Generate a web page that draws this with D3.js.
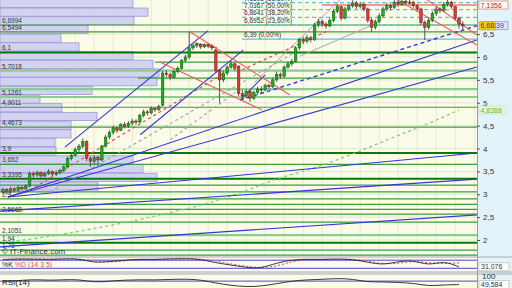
<!DOCTYPE html>
<html>
<head>
<meta charset="utf-8">
<script src="https://cdn.jsdelivr.net/npm/d3@7"></script>
<style>
  body { margin: 0; background: #fff; }
  svg { display: block; font-family: "Liberation Sans", Arial, sans-serif; }
</style>
</head>
<body>
<div id="chart"></div>
<script>
// candles: [open, high, low, close], one per session
const candles = [
  [3.05,3.15,3.00,3.10],[3.10,3.14,3.00,3.05],[3.05,3.16,3.02,3.12],[3.12,3.15,3.04,3.08],
  [3.08,3.20,3.06,3.15],[3.15,3.18,3.08,3.12],[3.12,3.22,3.10,3.18],[3.18,3.50,3.15,3.45],
  [3.45,3.50,3.36,3.42],[3.42,3.52,3.38,3.48],[3.48,3.50,3.36,3.40],[3.40,3.50,3.37,3.45],
  [3.45,3.55,3.42,3.50],[3.50,3.52,3.40,3.44],[3.44,3.52,3.40,3.47],[3.47,3.56,3.44,3.52],
  [3.52,3.64,3.48,3.60],[3.60,3.82,3.58,3.78],[3.78,3.90,3.74,3.85],[3.85,4.02,3.82,3.98],
  [3.98,4.10,3.92,4.05],[4.05,4.22,4.00,4.15],[4.15,4.18,3.72,3.78],[3.78,3.84,3.60,3.72],
  [3.72,3.86,3.66,3.80],[3.80,3.85,3.62,3.75],[3.75,4.08,3.72,4.05],[4.05,4.30,4.02,4.25],
  [4.25,4.40,4.20,4.35],[4.35,4.50,4.30,4.45],[4.45,4.48,4.34,4.40],[4.40,4.56,4.38,4.52],
  [4.52,4.58,4.44,4.48],[4.48,4.60,4.45,4.55],[4.55,4.65,4.50,4.60],[4.60,4.64,4.52,4.58],
  [4.58,4.76,4.55,4.72],[4.72,4.85,4.68,4.80],[4.80,4.84,4.72,4.78],[4.78,4.92,4.74,4.88],
  [4.88,4.90,4.80,4.85],[4.85,4.96,4.82,4.92],[4.95,5.70,4.92,5.65],[5.65,5.72,5.55,5.62],
  [5.62,5.66,5.50,5.55],[5.55,5.72,5.52,5.68],[5.68,5.80,5.64,5.75],[5.75,5.96,5.72,5.92],
  [5.92,6.05,5.88,6.00],[6.00,6.55,5.95,6.20],[6.20,6.30,6.15,6.25],[6.25,6.32,6.20,6.28],
  [6.28,6.30,6.18,6.22],[6.22,6.30,6.20,6.27],[6.27,6.30,6.20,6.24],[6.24,6.28,6.15,6.20],
  [6.15,6.18,5.65,5.70],[5.70,5.72,5.00,5.50],[5.50,5.70,5.45,5.65],[5.65,5.82,5.60,5.78],
  [5.78,5.92,5.74,5.85],[5.85,5.88,5.70,5.75],[5.80,5.82,5.15,5.20],[5.20,5.28,5.05,5.15],
  [5.15,5.30,5.10,5.25],[5.25,5.28,5.02,5.10],[5.10,5.26,5.06,5.22],[5.22,5.35,5.18,5.30],
  [5.30,5.36,5.22,5.28],[5.28,5.42,5.25,5.38],[5.38,5.42,5.30,5.35],[5.35,5.55,5.32,5.50],
  [5.50,5.68,5.46,5.62],[5.62,5.66,5.52,5.58],[5.58,5.82,5.55,5.78],[5.78,5.90,5.74,5.85],
  [5.85,5.96,5.80,5.90],[5.90,6.24,5.88,6.20],[6.20,6.42,6.15,6.38],[6.38,6.44,6.28,6.35],
  [6.35,6.48,6.30,6.42],[6.42,6.46,6.32,6.38],[6.38,6.75,6.35,6.70],[6.70,6.84,6.65,6.78],
  [6.78,6.82,6.66,6.72],[6.72,6.76,6.62,6.68],[6.68,6.85,6.65,6.80],[6.80,7.05,6.76,7.00],
  [7.00,7.16,6.96,7.10],[7.10,7.12,6.80,6.85],[6.85,7.10,6.82,7.05],[7.05,7.16,7.00,7.12],
  [7.12,7.24,7.08,7.18],[7.18,7.22,7.05,7.10],[7.10,7.20,7.06,7.15],[7.15,7.18,7.00,7.05],
  [7.05,7.08,6.75,6.80],[6.80,6.86,6.55,6.65],[6.65,6.82,6.60,6.78],[6.78,6.95,6.74,6.90],
  [6.90,7.10,6.86,7.05],[7.05,7.18,7.00,7.12],[7.12,7.16,7.02,7.08],[7.08,7.24,7.05,7.20],
  [7.20,7.24,7.10,7.15],[7.15,7.26,7.12,7.22],[7.22,7.25,7.14,7.18],[7.18,7.25,7.14,7.20],
  [7.20,7.22,7.08,7.12],[7.12,7.16,7.00,7.05],[7.05,7.08,6.70,6.75],[6.75,6.80,6.37,6.65],
  [6.65,6.85,6.60,6.80],[6.80,7.00,6.76,6.95],[6.95,7.10,6.90,7.05],[7.05,7.08,6.96,7.02],
  [7.02,7.20,6.98,7.15],[7.15,7.25,7.10,7.20],[7.20,7.22,7.05,7.10],[7.10,7.12,6.80,6.85],
  [6.85,6.88,6.62,6.72],[6.72,6.78,6.58,6.68]
];

// volume by price: bins from the top (7.26) down, step 0.19
const vbpTop = 7.26;
const vbpStep = 0.19;
const vbpVolume = [133,148,134,88,61,79,133,153,159,157,92,40,62,97,71,71,55,56,133,143,157,98];

// horizontal support / resistance levels
const levels = [6.6994, 6.5494, 4.9011, 4.4673, 3.652, 3.20, 3.05, 2.90, 2.78, 2.67, 2.5668, 2.39, 1.78, 1.67];
const strongLevels = [6.1, 3.9, 3.3395, 1.94];
const softLevels = [5.7018, 5.30, 5.1261, 2.1051];
const partialLevels = [[40, 5.89], [35.5, 5.54]];
const levelLabels = [
  [6.6994,"6,6994"],[6.5494,"6,5494"],[6.1,"6,1"],[5.7018,"5,7018"],[5.1261,"5,1261"],
  [4.9011,"4,9011"],[4.4673,"4,4673"],[3.9,"3,9"],[3.652,"3,652"],[3.3395,"3,3395"],
  [2.90,"2,9"],[2.5668,"2,5668"],[2.1051,"2,1051"],[1.94,"1,94"],[1.78,"1,78"]
];

// fibonacci retracement
const fibStart = 62.9;
const fibLevels = [7.1893, 7.0367, 6.8641, 6.6952, 6.39];
const fibLabels = ["7,1893 (61,80%)","7,0367 (50,00%)","6,8641 (38,20%)","6,6952 (23,60%)","6,39 (0,00%)"];

// trend lines [i1, p1, i2, p2]
const blueLines = [
  [-0.8,1.85,124.7,2.55],[-0.8,2.63,124.7,3.33],[1.3,2.94,124.7,3.90],
  [1.3,2.94,124.7,5.78],[1.3,2.94,124.7,6.37],[16.3,4.03,53.9,6.57],
  [36.1,4.30,63.2,6.15],[62.4,5.06,69.0,5.61]
];
const blueDashed = [[62.4,5.06,124.7,6.6839]];
const redLines = [
  [49.2,6.55,75.5,5.17],[41.3,5.89,68.2,4.84],[50.0,6.31,56.3,6.20],
  [103.7,7.25,124.7,6.26],[111.6,7.25,124.7,6.48]
];
const redLevel = [84.0, 7.1356];
const redDashed = [[7.1,3.09,59.7,5.72],[62.9,5.72,86.0,6.59]];
const greyLines = [[66.3,5.45,88.7,7.25],[78.2,6.02,99.2,6.77]];
const greyDashed = [[12.4,3.05,77.9,6.15],[44.0,4.19,62.0,5.28]];

// long moving average (dashed green)
const maLong = [[2,1.96],[12,2.08],[22,2.22],[32,2.38],[42,2.56],[52,2.76],[62,3.02],
  [72,3.33],[82,3.58],[92,3.88],[102,4.22],[112,4.55],[120,4.84]];

// oscillators, sampled every 4 sessions
const oscStep = 4;
const stochK = [85,90,88,85,90,92,60,70,80,88,85,90,92,88,60,45,25,20,60,82,88,85,90,86,65,45,70,80,40,75,31];
const stochD = [80,88,89,86,87,90,75,65,75,85,86,88,90,90,75,52,35,22,35,70,85,86,87,88,75,52,55,75,60,55,60];
const rsi = [70,72,80,74,78,80,62,70,76,78,76,80,82,78,58,45,36,40,55,70,78,80,86,82,64,66,62,58,40,48,49.584];

const priceTicks = [2, 2.5, 3, 3.5, 4, 4.5, 5, 5.5, 6, 6.5];

const W = 512, H = 288;
const plotW = 477, mainH = 256;

const svg = d3.select("#chart").append("svg").attr("width", W).attr("height", H);

var x = d3.scaleLinear().domain([-0.79, 124.74]).range([0, plotW]);
var y = d3.scaleLinear().domain([2, 6]).range([240, 57]);

svg.append("rect").attr("width", W).attr("height", H).attr("fill", "#f4f4f4");
svg.append("rect").attr("x", plotW).attr("width", W - plotW).attr("height", H).attr("fill", "#e3f3fa");
svg.append("rect").attr("width", plotW).attr("height", mainH).attr("fill", "#fbfbe9");

svg.append("clipPath").attr("id", "mainclip").append("rect").attr("width", plotW).attr("height", mainH);
var main = svg.append("g").attr("clip-path", "url(#mainclip)");

// grid
main.selectAll(".vg").data(d3.range(4, 125, 5)).enter().append("line")
  .attr("x1", d => x(d)).attr("x2", d => x(d)).attr("y1", 0).attr("y2", mainH)
  .attr("stroke", "#e9e9d2").attr("stroke-width", 1);
main.selectAll(".hg").data(priceTicks).enter().append("line")
  .attr("x1", 0).attr("x2", plotW).attr("y1", d => y(d)).attr("y2", d => y(d))
  .attr("stroke", "#e4e4d0");

// volume by price
var vw = d3.scaleLinear().domain([0, 160]).range([0, 160]);
main.selectAll(".vbp").data(vbpVolume).enter().append("rect")
  .attr("x", 0)
  .attr("y", (d, k) => y(vbpTop - k * vbpStep))
  .attr("width", d => vw(d))
  .attr("height", (d, k) => y(vbpTop - (k + 1) * vbpStep) - y(vbpTop - k * vbpStep) - 0.5)
  .attr("fill", "#cdcdf2").attr("fill-opacity", 0.9)
  .attr("stroke", "#9a9ad6").attr("stroke-width", 0.8);

// horizontal levels
main.selectAll(".lvs").data(softLevels).enter().append("line")
  .attr("x1", 0).attr("x2", plotW).attr("y1", d => y(d)).attr("y2", d => y(d))
  .attr("stroke", "#8ccc8c").attr("stroke-width", 2.2);
main.selectAll(".lv").data(levels).enter().append("line")
  .attr("x1", 0).attr("x2", plotW).attr("y1", d => y(d)).attr("y2", d => y(d))
  .attr("stroke", "#3c9e3c").attr("stroke-width", 1.2);
main.selectAll(".lvp").data(partialLevels).enter().append("line")
  .attr("x1", d => x(d[0])).attr("x2", plotW).attr("y1", d => y(d[1])).attr("y2", d => y(d[1]))
  .attr("stroke", "#3c9e3c").attr("stroke-width", 1.2);
main.selectAll(".lvb").data(strongLevels).enter().append("line")
  .attr("x1", 0).attr("x2", plotW).attr("y1", d => y(d)).attr("y2", d => y(d))
  .attr("stroke", "#087a08").attr("stroke-width", 2);

// fibonacci
main.selectAll(".fib").data(fibLevels).enter().append("line")
  .attr("x1", x(fibStart)).attr("x2", plotW).attr("y1", d => y(d)).attr("y2", d => y(d))
  .attr("stroke", "#55c2f0").attr("stroke-width", 1.2)
  .attr("stroke-dasharray", (d, k) => k === fibLevels.length - 1 ? null : "4,3");

// long moving average
main.append("path").datum(maLong)
  .attr("d", d3.line().x(d => x(d[0])).y(d => y(d[1])).curve(d3.curveMonotoneX))
  .attr("fill", "none").attr("stroke", "#6fd86f").attr("stroke-width", 1.3).attr("stroke-dasharray", "3,3");

function drawSegs(data, color, dash, width) {
  main.append("g").selectAll("line").data(data).enter().append("line")
    .attr("x1", d => x(d[0])).attr("y1", d => y(d[1]))
    .attr("x2", d => x(d[2])).attr("y2", d => y(d[3]))
    .attr("stroke", color).attr("stroke-width", width)
    .attr("stroke-dasharray", dash);
}
drawSegs(greyLines, "#a9a9a9", null, 1);
drawSegs(greyDashed, "#a0a0a0", "3,3", 1.1);
drawSegs(redDashed, "#e05050", "3,3", 1.2);
drawSegs(blueDashed, "#3a3ad8", "4,3", 1.4);
drawSegs(blueLines, "#3434dc", null, 1.1);
drawSegs(redLines, "#f05a5a", null, 1.1);
main.append("line")
  .attr("x1", x(redLevel[0])).attr("x2", plotW).attr("y1", y(redLevel[1])).attr("y2", y(redLevel[1]))
  .attr("stroke", "#f07a7a").attr("stroke-width", 1.5);

// candles
var cg = main.append("g");
cg.selectAll(".wick").data(candles).enter().append("line")
  .attr("x1", (d, i) => x(i)).attr("x2", (d, i) => x(i))
  .attr("y1", d => y(d[1])).attr("y2", d => y(d[2]))
  .attr("stroke", "#555").attr("stroke-width", 1);
cg.selectAll(".body").data(candles).enter().append("rect")
  .attr("x", (d, i) => x(i) - 1.3).attr("width", 2.6)
  .attr("y", d => y(Math.max(d[0], d[3])))
  .attr("height", d => Math.max(1, Math.abs(y(d[0]) - y(d[3]))))
  .attr("fill", d => d[3] >= d[0] ? "#25a825" : "#d83a3a")
  .attr("stroke", d => d[3] >= d[0] ? "#0c5a0c" : "#7a1a1a").attr("stroke-width", 0.5);

// labels
main.selectAll(".lvl").data(levelLabels).enter().append("text")
  .attr("x", 2).attr("y", d => y(d[0]) - 2)
  .attr("font-size", 6.5).attr("fill", "#333").text(d => d[1]);
main.selectAll(".fibl").data(fibLabels).enter().append("text")
  .attr("x", x(fibStart) + 2).attr("y", (d, k) => y(fibLevels[k]) - 2)
  .attr("font-size", 6.5).attr("fill", "#333").text(d => d);
main.append("text").attr("x", 2).attr("y", mainH - 2).attr("font-size", 8).attr("fill", "#333")
  .text("© IT-Finance.com");

// right axis
svg.append("line").attr("x1", plotW + 0.5).attr("x2", plotW + 0.5).attr("y1", 0).attr("y2", H).attr("stroke", "#999");
svg.append("g").attr("transform", "translate(" + plotW + ",0)")
  .call(d3.axisRight(y).tickValues(priceTicks).tickSize(3).tickFormat(d => String(d).replace(".", ",")))
  .call(g => g.select(".domain").remove())
  .call(g => g.selectAll("text").attr("font-size", 8).attr("fill", "#333").attr("font-family", "Liberation Sans, Arial"))
  .call(g => g.selectAll("line").attr("stroke", "#555"));

function tag(val, txt, bg, border, color, dx, w) {
  var g = svg.append("g").attr("transform", "translate(" + (plotW + dx) + "," + y(val) + ")");
  g.append("rect").attr("x", 0).attr("y", -4).attr("width", w).attr("height", 8)
    .attr("fill", bg).attr("stroke", border).attr("stroke-width", 0.7);
  g.append("text").attr("x", 1.5).attr("y", 2.5).attr("font-size", 7).attr("fill", color).text(txt);
}
tag(redLevel[1], "7,1356", "#fff", "#e07070", "#c02020", 2, 29);
tag(blueDashed[0][3], "6,6839", "#dfe3ff", "#8a8ae0", "#3a3ad8", 4, 27);
tag(candles[candles.length - 1][3], "6,68", "#f7d21a", "#c9a400", "#333", 2, 16);
tag(maLong[maLong.length - 1][1], "4,8388", "#e6f7e6", "#bde6bd", "#3ec43e", 2, 27);

// stochastic panel
var sTop = 257, sBot = 271;
var ys = d3.scaleLinear().domain([0, 100]).range([sBot, sTop + 0.5]);
var xo = (d, k) => x(Math.min(k * oscStep, candles.length - 1));
svg.append("rect").attr("y", sTop).attr("width", plotW).attr("height", sBot - sTop + 1).attr("fill", "#fbfbe9");
svg.append("line").attr("x1", 0).attr("x2", W).attr("y1", sTop).attr("y2", sTop).attr("stroke", "#aaa");
svg.append("line").attr("x1", 0).attr("x2", W).attr("y1", sBot + 1).attr("y2", sBot + 1).attr("stroke", "#aaa");
[80, 20].forEach(v => svg.append("line").attr("x1", 0).attr("x2", plotW).attr("y1", ys(v)).attr("y2", ys(v))
  .attr("stroke", "#4848e0").attr("stroke-width", 1));
svg.append("path").datum(stochD).attr("d", d3.line().x(xo).y(d => ys(d)).curve(d3.curveBasis))
  .attr("fill", "none").attr("stroke", "#e05050").attr("stroke-width", 1).attr("stroke-dasharray", "2,2");
svg.append("path").datum(stochK).attr("d", d3.line().x(xo).y(d => ys(d)).curve(d3.curveBasis))
  .attr("fill", "none").attr("stroke", "#222").attr("stroke-width", 0.9);
var sl = svg.append("text").attr("x", 2).attr("y", 267).attr("font-size", 7);
sl.append("tspan").attr("fill", "#222").text("%K ");
sl.append("tspan").attr("fill", "#e05050").text("%D (14 3 5)");
var kg = svg.append("g").attr("transform", "translate(" + (plotW + 2) + "," + ys(stochK[stochK.length - 1]) + ")");
kg.append("rect").attr("y", -4).attr("width", 30).attr("height", 8).attr("fill", "#fff").attr("stroke", "#bbb").attr("stroke-width", 0.7);
kg.append("text").attr("x", 2).attr("y", 2.5).attr("font-size", 7).attr("fill", "#333").text("31,076");

// rsi panel
var rTop = 274;
var yr = d3.scaleLinear().domain([0, 100]).range([293, rTop + 2]);
svg.append("rect").attr("y", rTop).attr("width", plotW).attr("height", H - rTop).attr("fill", "#fbfbe9");
svg.append("line").attr("x1", 0).attr("x2", W).attr("y1", rTop).attr("y2", rTop).attr("stroke", "#aaa");
svg.append("line").attr("x1", 0).attr("x2", plotW).attr("y1", yr(70)).attr("y2", yr(70)).attr("stroke", "#4848e0");
svg.append("path").datum(rsi).attr("d", d3.line().x(xo).y(d => yr(d)).curve(d3.curveBasis))
  .attr("fill", "none").attr("stroke", "#222").attr("stroke-width", 0.9);
svg.append("text").attr("x", 2).attr("y", 285).attr("font-size", 8).attr("fill", "#222").text("RSI(14)");
svg.append("text").attr("x", plotW + 5).attr("y", yr(100) + 3).attr("font-size", 8).attr("fill", "#333").text("100");
var rg = svg.append("g").attr("transform", "translate(" + (plotW + 2) + "," + yr(rsi[rsi.length - 1]) + ")");
rg.append("rect").attr("y", -4).attr("width", 30).attr("height", 8).attr("fill", "#fff").attr("stroke", "#bbb").attr("stroke-width", 0.7);
rg.append("text").attr("x", 2).attr("y", 2.5).attr("font-size", 7).attr("fill", "#333").text("49,584");
</script>
</body>
</html>
